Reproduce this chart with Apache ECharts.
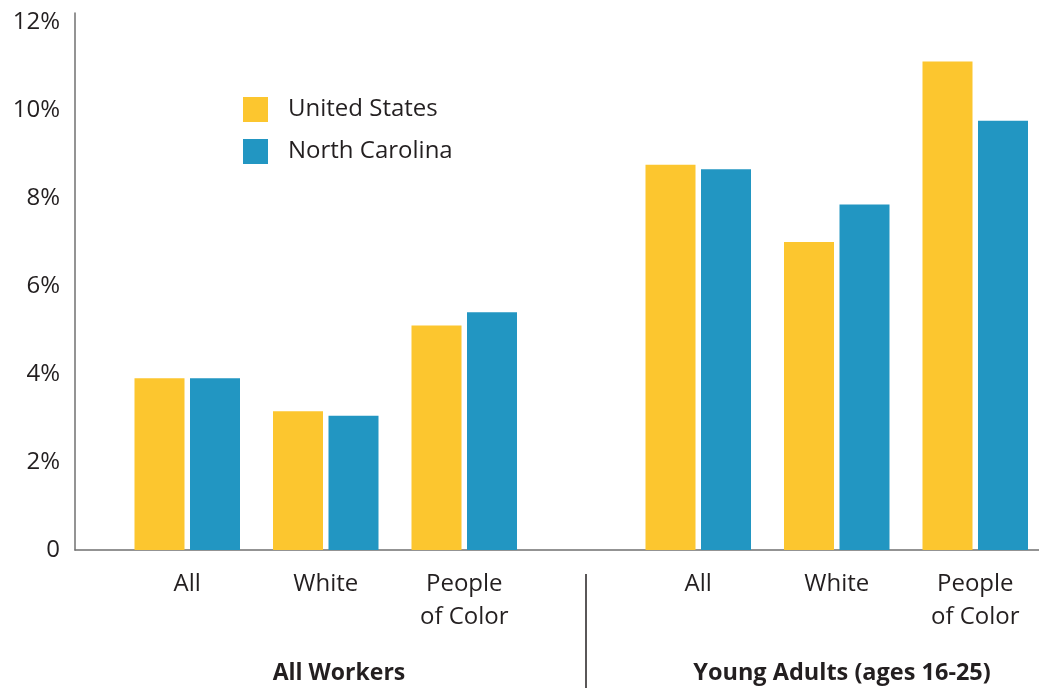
<!DOCTYPE html>
<html>
<head>
<meta charset="utf-8">
<script src="https://cdn.jsdelivr.net/npm/echarts@6/dist/echarts.min.js"></script>
<style>
  html, body { margin: 0; padding: 0; background: #fff; }
  #chart { width: 1039px; height: 688px; }
</style>
</head>
<body>
<div id="chart"></div>
<script>
var categories = ['All', 'White', 'People\nof Color'];
var groupNames = ['All Workers', 'Young Adults (ages 16-25)'];
var seriesNames = ['United States', 'North Carolina'];
// all workers
var usAll = [3.9, 3.15, 5.1];
var ncAll = [3.9, 3.05, 5.4];
// young adults
var usYoung = [8.75, 7.0, 11.1];
var ncYoung = [8.65, 7.85, 9.75];
var yTicks = [0, 2, 4, 6, 8, 10, 12];

var colors = ['#FCC62F', '#2296C2'];
var font = '"Open Sans", "Noto Sans", sans-serif';
var textColor = '#231f20';

var chart = echarts.init(document.getElementById('chart'));

function hiddenY(idx) {
    return {
        type: 'value', gridIndex: idx, min: 0, max: 12.2,
        axisLine: { show: false }, axisTick: { show: false },
        axisLabel: { show: false }, splitLine: { show: false }
    };
}

function catX(idx) {
    return {
        type: 'category', gridIndex: idx, data: categories,
        axisLine: { show: false }, axisTick: { show: false },
        splitLine: { show: false },
        axisLabel: {
            interval: 0, margin: 18, color: textColor, fontFamily: font,
            fontSize: 24, lineHeight: 33, verticalAlign: 'top'
        }
    };
}

function bars(name, data, idx, color) {
    return {
        name: name, type: 'bar', data: data,
        xAxisIndex: idx, yAxisIndex: idx,
        barWidth: 50, barGap: '11%',
        itemStyle: { color: color }
    };
}

chart.setOption({
    animation: false,
    legend: {
        data: seriesNames,
        orient: 'vertical',
        left: 243, top: 97, padding: 0,
        itemWidth: 25, itemHeight: 25, itemGap: 17,
        icon: 'rect',
        textStyle: { fontFamily: font, fontSize: 24, lineHeight: 25, color: textColor, padding: [0, 0, 0, 15] }
    },
    grid: [
        { left: 75, right: 0, top: 13, bottom: 138, outerBoundsMode: 'none' },
        { left: 118, width: 415.5, top: 13, bottom: 138, outerBoundsMode: 'none' },
        { left: 629, width: 415.5, top: 13, bottom: 138, outerBoundsMode: 'none' }
    ],
    xAxis: [
        {
            type: 'value', gridIndex: 0, min: 0, max: 1,
            axisLine: { show: true, lineStyle: { color: '#707070', width: 1.5 } },
            axisTick: { show: false }, axisLabel: { show: false }, splitLine: { show: false }
        },
        catX(1),
        catX(2)
    ],
    yAxis: [
        {
            type: 'value', gridIndex: 0, min: 0, max: 12.2, interval: 2,
            axisLine: { show: true, lineStyle: { color: '#707070', width: 1.5 } },
            axisTick: { show: false }, splitLine: { show: false },
            axisLabel: {
                margin: 15, color: textColor, fontFamily: font, fontSize: 24,
                formatter: function(v) {
                    if (yTicks.indexOf(v) < 0) return '';
                    return v === 0 ? '0' : v + '%';
                }
            }
        },
        hiddenY(1),
        hiddenY(2)
    ],
    series: [
        bars(seriesNames[0], usAll, 1, colors[0]),
        bars(seriesNames[1], ncAll, 1, colors[1]),
        bars(seriesNames[0], usYoung, 2, colors[0]),
        bars(seriesNames[1], ncYoung, 2, colors[1])
    ],
    graphic: [
        {
            type: 'line', shape: { x1: 586, y1: 574, x2: 586, y2: 688 },
            style: { stroke: '#231f20', lineWidth: 1.5 }
        },
        {
            type: 'text', x: 339, y: 673,
            style: {
                text: groupNames[0], fill: textColor, font: 'bold 23px ' + font,
                textAlign: 'center', textVerticalAlign: 'middle'
            }
        },
        {
            type: 'text', x: 842, y: 673,
            style: {
                text: groupNames[1], fill: textColor, font: 'bold 23.5px ' + font,
                textAlign: 'center', textVerticalAlign: 'middle'
            }
        }
    ]
});
</script>
</body>
</html>
